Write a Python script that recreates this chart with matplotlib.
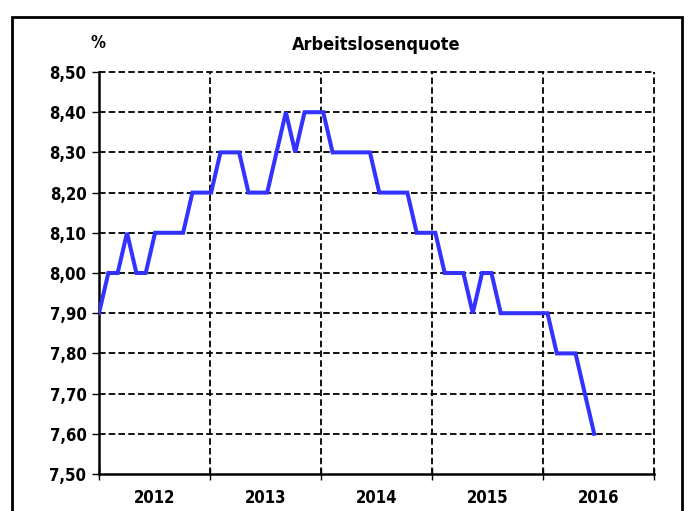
import matplotlib
matplotlib.use("Agg")
import matplotlib.pyplot as plt
from matplotlib.patches import Rectangle
import numpy as np

# monthly unemployment rate, Jan 2012 .. Jun 2016
quote = [7.9, 8.0, 8.0, 8.1, 8.0, 8.0, 8.1, 8.1, 8.1, 8.1, 8.2, 8.2,
         8.2, 8.3, 8.3, 8.3, 8.2, 8.2, 8.2, 8.3, 8.4, 8.3, 8.4, 8.4,
         8.4, 8.3, 8.3, 8.3, 8.3, 8.3, 8.2, 8.2, 8.2, 8.2, 8.1, 8.1,
         8.1, 8.0, 8.0, 8.0, 7.9, 8.0, 8.0, 7.9, 7.9, 7.9, 7.9, 7.9,
         7.9, 7.8, 7.8, 7.8, 7.7, 7.6]
years = ["2012", "2013", "2014", "2015", "2016"]
y_ticks = [7.5, 7.6, 7.7, 7.8, 7.9, 8.0, 8.1, 8.2, 8.3, 8.4, 8.5]

plt.rcParams['font.family'] = ['DejaVu Sans']
plt.rcParams['font.stretch'] = 'condensed'
plt.rcParams['font.weight'] = 'bold'

fig = plt.figure(figsize=(6.88, 5.11), dpi=100)
W, H = 688, 511
x0, x1, ytop, ybot = 99, 654, 72, 474
ax = fig.add_axes([x0 / W, (H - ybot) / H, (x1 - x0) / W, (ybot - ytop) / H])

span = 59.4  # x range in months covered by the 5 year slots
edges = np.linspace(0, span, len(years) + 1)

x = np.arange(len(quote))
ax.plot(x, quote, color='#3333ff', lw=2.9, solid_joinstyle='miter', zorder=3)

ax.set_xlim(0, span)
ax.set_ylim(7.5, 8.5)

dash = (0, (3.6, 1.8))
for v in y_ticks[1:]:
    ax.axhline(v, color='black', lw=1.3, ls=dash, zorder=1, clip_on=False)
for e in edges[1:]:
    ax.axvline(e, color='black', lw=1.3, ls=dash, zorder=1, clip_on=False)

for s in ['top', 'right']:
    ax.spines[s].set_visible(False)
ax.spines['left'].set_linewidth(1.8)
ax.spines['bottom'].set_linewidth(1.8)

ax.set_yticks(y_ticks)
ax.set_yticklabels([f"{v:.2f}".replace('.', ',') for v in y_ticks])
ax.tick_params(axis='y', direction='out', length=5, width=1, labelsize=12, pad=4)

ax.set_xticks(edges)
ax.set_xticklabels([])
ax.tick_params(axis='x', direction='inout', length=8, width=1)
centers = (edges[:-1] + edges[1:]) / 2
for c, lab in zip(centers, years):
    ax.text(c, -0.06, lab, transform=ax.get_xaxis_transform(), ha='center', va='center',
            fontsize=12, fontweight='bold')

fig.text((x0 + x1) / 2 / W, 1 - 45 / H, "Arbeitslosenquote", ha='center', va='center',
         fontsize=13, fontweight='bold')
fig.text(98 / W, 1 - 43 / H, "%", ha='center', va='center', fontsize=12, fontweight='bold')

fig.patches.append(Rectangle((12 / W, -0.05), (681.5 - 12) / W, 1.05 - 17 / H,
                             transform=fig.transFigure, fill=False, lw=2, ec='black'))

fig.savefig("out.png", dpi=100)
